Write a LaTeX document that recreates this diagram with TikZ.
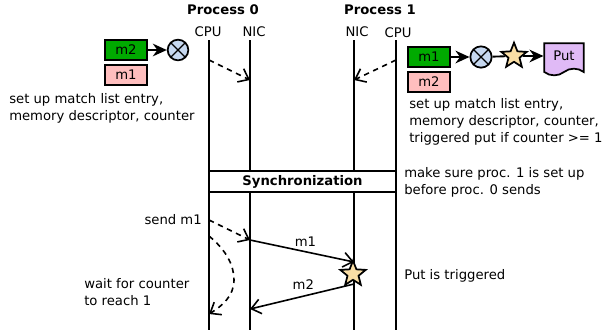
\documentclass[tikz,border=0pt]{standalone}
\usepackage{fontspec}
\setmainfont{DejaVu Sans}
\usetikzlibrary{arrows.meta,shapes.geometric,shapes.symbols}

\definecolor{msggreen}{RGB}{0,170,0}
\definecolor{msgpink}{RGB}{255,190,190}
\definecolor{xorblue}{RGB}{198,216,240}
\definecolor{starsand}{RGB}{250,222,165}
\definecolor{putlilac}{RGB}{224,186,246}

\tikzset{
  txt/.style={font=\fontsize{9.9pt}{12.75pt}\selectfont,align=left,inner sep=0pt},
  head/.style={font=\fontsize{9.9pt}{12pt}\selectfont\bfseries,inner sep=0pt},
  life/.style={line width=1.3pt},
  msgbox/.style={draw,line width=1.3pt,minimum width=31.5pt,minimum height=15pt,inner sep=0pt,font=\fontsize{9.9pt}{12pt}\selectfont},
  xorgate/.style={draw,circle,line width=1.3pt,fill=xorblue,minimum size=16pt,inner sep=0pt,
    path picture={\draw[line width=1pt] (path picture bounding box.north west) -- (path picture bounding box.south east)
      (path picture bounding box.north east) -- (path picture bounding box.south west);}},
  trig/.style={draw,star,star points=5,star point ratio=2.3,line width=1.3pt,fill=starsand,minimum size=20pt,inner sep=0pt},
  chain/.style={line width=1.4pt,-{Stealth[length=10.5pt,width=9.5pt]}},
  ctl/.style={line width=1.2pt,dash pattern=on 4pt off 3.5pt,-{Straight Barb[length=7pt,width=11pt]}},
  msg/.style={line width=1.2pt,-{Straight Barb[length=7pt,width=11pt]}}
}

\begin{document}
\begin{tikzpicture}[x=0.75pt,y=-0.75pt]
   \useasboundingbox (0,0) rectangle (602,333);

   % headers
   \node[head] (proc0) at (223,10) {Process 0};
   \node[head] (proc1) at (380,10) {Process 1};
   \node[txt] (cpu0) at (208,32) {CPU};
   \node[txt] (nic0) at (254,32) {NIC};
   \node[txt] (nic1) at (357,32) {NIC};
   \node[txt] (cpu1) at (398,33) {CPU};

   % lifelines
   \coordinate (cpu0top) at (209,40);
   \coordinate (cpu0end) at (209,330);
   \coordinate (nic0top) at (250,40);
   \coordinate (nic0end) at (250,330);
   \coordinate (nic1top) at (354,40);
   \coordinate (nic1end) at (354,330);
   \coordinate (cpu1top) at (396,40);
   \coordinate (cpu1end) at (396,330);
   \draw[life] (cpu0top) -- (cpu0end);
   \draw[life] (nic0top) -- (nic0end);
   \draw[life] (nic1top) -- (nic1end);
   \draw[life] (cpu1top) -- (cpu1end);

   % process 0 setup
   \node[msgbox,fill=msggreen] (m2a) at (126,50) {m2};
   \node[msgbox,fill=msgpink] (m1a) at (126,75) {m1};
   \node[xorgate,minimum size=15.5pt] (xor0) at (178,50) {};
   \draw[chain] (m2a) -- (xor0);

   % process 1 setup
   \node[msgbox,fill=msggreen] (m1b) at (429,57) {m1};
   \node[msgbox,fill=msgpink] (m2b) at (429,82) {m2};
   \node[xorgate] (xor1) at (481,57) {};
   \node[trig] (star1) at (514,56) {};
   \node[draw,tape,tape bend top=none,tape bend height=5pt,line width=1.3pt,fill=putlilac,
     minimum width=29.5pt,minimum height=24pt,inner sep=0pt,font=\fontsize{9.9pt}{12pt}\selectfont] (put) at (564,56) {Put};
   \draw[chain] (m1b) -- (xor1);
   \draw[line width=1.4pt] (xor1) -- (star1);
   \draw[chain] (star1) -- (put);

   \coordinate (setup0a) at (209,60);
   \coordinate (setup0b) at (250,80);
   \coordinate (setup1a) at (396,60);
   \coordinate (setup1b) at (354,80);
   \draw[ctl] (setup0a) -- (setup0b);
   \draw[ctl] (setup1a) -- (setup1b);

   \node[txt,anchor=north west] (note0) at (9,93) {set up match list entry,\\memory descriptor, counter};
   \node[txt,anchor=north west] (note1) at (409,98) {set up match list entry,\\memory descriptor, counter,\\triggered put if counter >= 1};

   % synchronization
   \node[draw,fill=white,line width=1.3pt,minimum width=140.25pt,minimum height=15.75pt,inner sep=0pt,
     font=\fontsize{9.9pt}{12pt}\selectfont\bfseries] (sync) at (302.5,181.5) {Synchronization};
   \node[txt,anchor=north west] (syncnote) at (404,167) {make sure proc. 1 is set up\\before proc. 0 sends};

   % messages
   \coordinate (send0) at (209,220);
   \coordinate (send1) at (250,240);
   \coordinate (hit1) at (354,262);
   \coordinate (ret0) at (354,284);
   \coordinate (ret1) at (250,309);
   \coordinate (wait0) at (209,236);
   \coordinate (wait1) at (209,314);
   \node[txt,anchor=east] (sendm1) at (202,220) {send m1};
   \draw[ctl] (send0) -- (send1);
   \draw[msg] (send1) -- node[txt,pos=.52,above=3pt,xshift=1pt] (lblm1) {m1} (hit1);
   \draw[msg] (ret0) -- node[txt,pos=.5,above=5pt,xshift=1pt] (lblm2) {m2} (ret1);
   \draw[ctl] (wait0) .. controls (226,250) and (234,265) .. (234,280) .. controls (234,296) and (222,306) .. (wait1);
   \node[trig] (star2) at (353,274) {};

   \node[txt,anchor=north west] (waitnote) at (84,278) {wait for counter\\to reach 1};
   \node[txt,anchor=west] (putnote) at (404,276) {Put is triggered};
\end{tikzpicture}
\end{document}
